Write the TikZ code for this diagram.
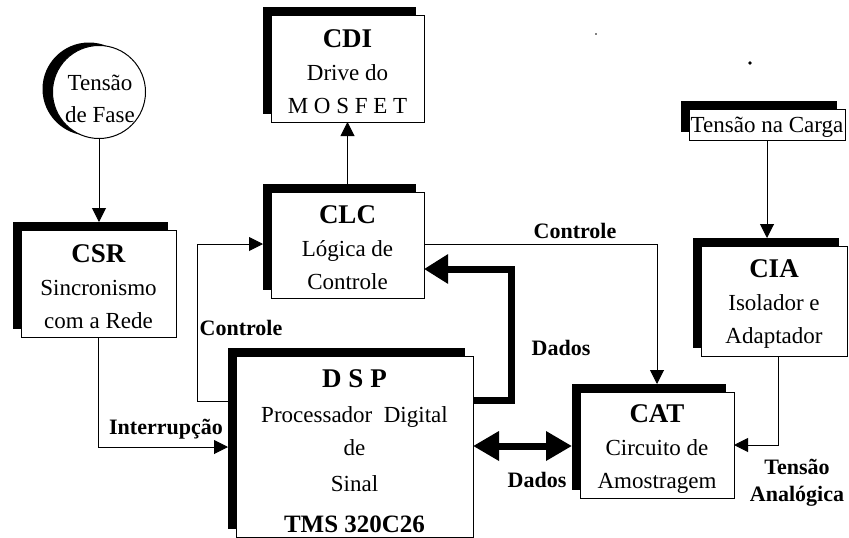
\documentclass[tikz,border=0pt]{standalone}
\usepackage{fontspec}
\setmainfont{Liberation Serif}
\usetikzlibrary{arrows.meta}

\newcommand\boxtitle{\bfseries\fontsize{27}{30}\selectfont}
\newcommand\boxtext{\fontsize{23}{33}\selectfont}

\tikzset{
  shd/.style={fill=black, draw=none, inner sep=0pt, outer sep=0pt},
  blk/.style={draw=black, line width=1pt, fill=white, inner sep=0pt, outer sep=0pt},
  txt/.style={align=center, inner sep=0pt, font=\boxtext},
  lbl/.style={align=center, inner sep=0pt, font=\bfseries\fontsize{22}{27}\selectfont},
  arr/.style={line width=1pt, -{Triangle[width=14pt,length=14pt]}},
  fat/.style={line width=7pt, -{Triangle[width=28pt,length=24pt]}},
  fatboth/.style={line width=7pt, {Triangle[width=28pt,length=26pt]}-{Triangle[width=28pt,length=26pt]}},
}

\begin{document}
\begin{tikzpicture}[x=1pt,y=-1pt]
\useasboundingbox (0,0) rectangle (849,538);

% phase voltage source
\node[shd, circle, minimum size=93] (fase-s) at (89,89) {};
\node[blk, circle, minimum size=93] (fase) at (99,92) {};
\node[txt, font=\fontsize{23}{32}\selectfont] (fase-t) at (100,99) {Tensão\\de Fase};

% blocks: black shadow offset up-left, white box on top
\node[shd, minimum width=153, minimum height=107] (cdi-s) at (339.5,60.5) {};
\node[blk, minimum width=153, minimum height=107] (cdi) at (347.5,68.5) {};
\node[txt] (cdi-t) at (347.5,72) {{\boxtitle CDI}\\Drive do\\M O S F E T};

\node[shd, minimum width=153, minimum height=106] (clc-s) at (339.5,237) {};
\node[blk, minimum width=153, minimum height=106] (clc) at (347.5,245) {};
\node[txt] (clc-t) at (347.5,248) {{\boxtitle CLC}\\Lógica de\\Controle};

\node[shd, minimum width=155, minimum height=107] (csr-s) at (90.5,275.5) {};
\node[blk, minimum width=155, minimum height=107] (csr) at (98.5,283.5) {};
\node[txt] (csr-t) at (98.5,287) {{\boxtitle CSR}\\Sincronismo\\com a Rede};

\node[shd, minimum width=237, minimum height=181] (dsp-s) at (346.5,438.5) {};
\node[blk, minimum width=237, minimum height=181] (dsp) at (354.5,446.5) {};
\node[txt] (dsp-t) at (354.5,451) {{\boxtitle D S P}\\[2pt]Processador\ \ Digital\\de\\[3pt]Sinal\\[8pt]{\bfseries\fontsize{25}{30}\selectfont TMS 320C26}};

\node[shd, minimum width=154, minimum height=106] (cat-s) at (649,437) {};
\node[blk, minimum width=154, minimum height=106] (cat) at (657,445) {};
\node[txt] (cat-t) at (657,449) {{\boxtitle CAT}\\Circuito de\\Amostragem};

\node[shd, minimum width=146, minimum height=110] (cia-s) at (766,293) {};
\node[blk, minimum width=146, minimum height=110] (cia) at (774,301) {};
\node[txt] (cia-t) at (774,304) {{\boxtitle CIA}\\Isolador e\\Adaptador};

\node[shd, minimum width=156, minimum height=31] (tnc-s) at (759,116.5) {};
\node[blk, minimum width=156, minimum height=31] (tnc) at (767,124.5) {};
\node[txt] (tnc-t) at (767,127) {Tensão na Carga};

% connectors
\draw[arr] (fase.south) -- (fase.south |- csr-s.north);
\draw[arr] (csr.south) |- (dsp-s.west |- 0,447);
\draw[arr] (dsp-s.west |- 0,401) -- (197,401) -- (197,244) -- (clc-s.west |- 0,244);
\draw[arr] (clc.north |- clc-s.north) -- (cdi.south);
\draw[arr] (clc.east |- 0,244) -| (cat.north |- cat-s.north);
\draw[fat] (dsp.east |- 0,400) -| (511,269) -- (clc.east |- 0,269);
\draw[fatboth] (dsp.east |- 0,446) -- (cat-s.west |- 0,446);
\draw[arr] (tnc.south) -- (tnc.south |- cia-s.north);
\draw[arr] (cia.south -| 778,0) |- (cat.east |- 0,445);

% connector labels
\node[lbl] (l-int) at (166,429) {Interrupção};
\node[lbl] (l-ctl1) at (241,328) {Controle};
\node[lbl] (l-ctl2) at (575,231) {Controle};
\node[lbl] (l-dad1) at (561,348) {Dados};
\node[lbl] (l-dad2) at (537,480) {Dados};
\node[lbl] (l-ta) at (797,483) {Tensão\\Analógica};

% stray specks
\fill (750,63) circle (1.8);
\fill (596,34) circle (0.8);
\end{tikzpicture}
\end{document}
